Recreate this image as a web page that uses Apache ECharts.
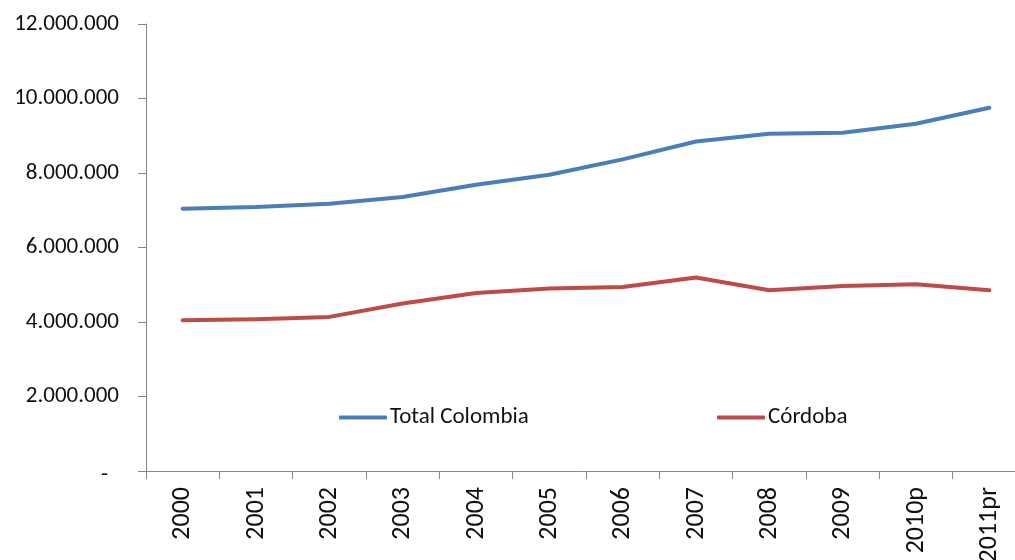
<!DOCTYPE html>
<html>
<head>
<meta charset="utf-8">
<script src="https://cdn.jsdelivr.net/npm/echarts@6/dist/echarts.min.js"></script>
<style>
html,body{margin:0;padding:0;background:#fff;}
#chart{width:1015px;height:560px;}
</style>
</head>
<body>
<div id="chart"></div>
<script>
const categories = ['2000','2001','2002','2003','2004','2005','2006','2007','2008','2009','2010p','2011pr'];
const totalColombia = [7043000, 7086000, 7177000, 7354000, 7686000, 7955000, 8365000, 8847000, 9054000, 9081000, 9322000, 9751000];
const cordoba = [4048000, 4075000, 4137000, 4496000, 4780000, 4898000, 4941000, 5193000, 4853000, 4968000, 5013000, 4853000];
const seriesNames = ['Total Colombia', 'Córdoba'];
const yTicks = { min: 0, max: 12000000, interval: 2000000 };

const FONT = 'Carlito, Lato, "Liberation Sans", sans-serif';
const axisColor = '#868686';

function fmt(v) {
  if (v === 0) return '{d|-}';
  return String(Math.round(v)).replace(/\B(?=(\d{3})+(?!\d))/g, '.');
}

const legendCommon = {
  top: 401, itemWidth: 48, itemHeight: 4, itemGap: 0, icon: 'roundRect',
  textStyle: { fontFamily: FONT, fontSize: 23, color: '#111', padding: [0, 0, 0, -2] }
};

const chart = echarts.init(document.getElementById('chart'), null, { renderer: 'canvas' });
chart.setOption({
  animation: false,
  backgroundColor: '#ffffff',
  grid: { left: 146, right: -11, top: 24, bottom: 89, containLabel: false, outerBoundsMode: 'none' },
  legend: [
    Object.assign({ data: [seriesNames[0]], left: 334 }, legendCommon),
    Object.assign({ data: [seriesNames[1]], left: 712 }, legendCommon)
  ],
  xAxis: {
    type: 'category',
    data: categories,
    boundaryGap: true,
    axisLine: { lineStyle: { color: axisColor, width: 1 } },
    axisTick: { show: true, length: 8, lineStyle: { color: axisColor } },
    axisLabel: { rotate: 90, margin: 16, fontFamily: FONT, fontSize: 26, color: '#111', interval: 0 },
    splitLine: { show: false }
  },
  yAxis: {
    type: 'value',
    min: yTicks.min, max: yTicks.max, interval: yTicks.interval,
    axisLine: { show: true, lineStyle: { color: axisColor, width: 1 } },
    axisTick: { show: true, length: 8, lineStyle: { color: axisColor } },
    axisLabel: {
      margin: 27, fontFamily: FONT, fontSize: 23, color: '#111', formatter: fmt,
      rich: { d: { fontFamily: FONT, fontSize: 23, color: '#111', padding: [8, 11, 0, 0] } }
    },
    splitLine: { show: false }
  },
  series: [
    {
      name: seriesNames[0], type: 'line', data: totalColombia, symbol: 'none', smooth: false,
      lineStyle: { color: '#4A7EBB', width: 4, cap: 'round', join: 'round' },
      itemStyle: { color: '#4A7EBB' }
    },
    {
      name: seriesNames[1], type: 'line', data: cordoba, symbol: 'none', smooth: false,
      lineStyle: { color: '#BE4B48', width: 4, cap: 'round', join: 'round' },
      itemStyle: { color: '#BE4B48' }
    }
  ]
});
</script>
</body>
</html>
